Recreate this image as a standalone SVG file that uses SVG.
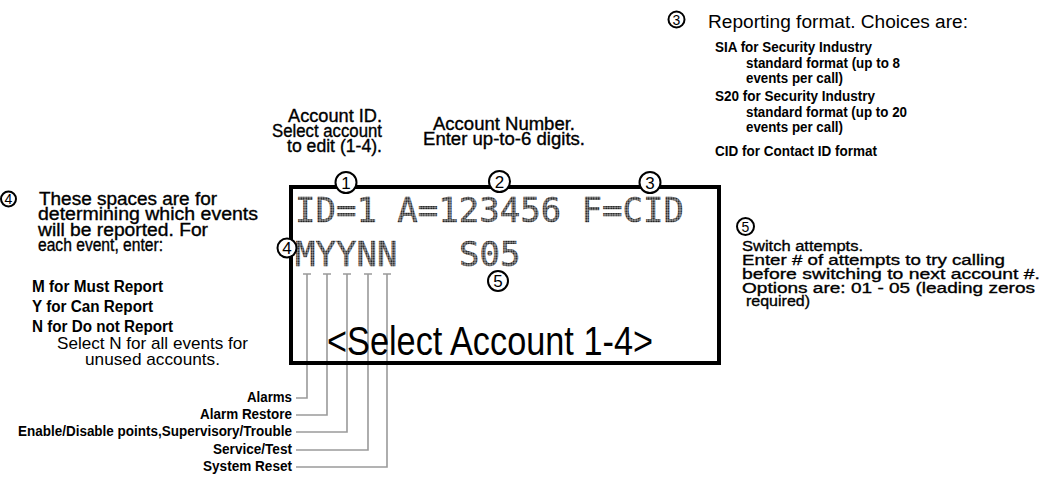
<svg xmlns="http://www.w3.org/2000/svg" width="1040" height="477" viewBox="0 0 1040 477">
<style>
text{font-family:"Liberation Sans",Arial,sans-serif;fill:#000}
.m{stroke:#000;stroke-width:0.35}
.b{font-weight:bold}
.num{font-size:17px;text-anchor:middle}
.sn{font-size:14px;text-anchor:middle}
.dm{font-family:"DejaVu Sans Mono","Liberation Mono",monospace;font-size:34px;fill:url(#dots);stroke:url(#dots);stroke-width:0.5}
.cir{fill:#fff;stroke:#000;stroke-width:2}
.scir{fill:#fff;stroke:#000;stroke-width:2}
.con{fill:none;stroke:#9a9a9a;stroke-width:1.6}
</style>
<defs>
<pattern id="dots" width="2.5" height="2.5" patternUnits="userSpaceOnUse"><rect x="0.3" y="0.3" width="1.9" height="1.9" fill="#000"/></pattern>
</defs>
<rect width="1040" height="477" fill="#fff"/>

<g id="connectors">
<path class="con" d="M303 274H311M307 274V398H296"/>
<path class="con" d="M323 274H331M327 274V415H296"/>
<path class="con" d="M343 274H351M347 274V432H296"/>
<path class="con" d="M364 274H372M368 274V450H296"/>
<path class="con" d="M383 274H391M387 274V467H296"/>
</g>

<g id="display">
<rect x="291" y="187" width="428" height="176" fill="none" stroke="#000" stroke-width="4"/>
<text class="dm" x="295" y="222">ID=1 A=123456 F=CID</text>
<text class="dm" x="295" y="266">MYYNN</text>
<text class="dm" x="459" y="266">S05</text>
<text x="327" y="355" font-size="41" textLength="326" lengthAdjust="spacingAndGlyphs">&lt;Select Account 1-4&gt;</text>
</g>

<g id="marker1"><circle class="cir" cx="346" cy="182.5" r="10.5"/><text class="num" x="346" y="189">1</text></g>
<g id="marker2"><circle class="cir" cx="499.5" cy="181.5" r="10.5"/><text class="num" x="499.5" y="188">2</text></g>
<g id="marker3"><circle class="cir" cx="650" cy="182.5" r="10.5"/><text class="num" x="650" y="189">3</text></g>
<g id="marker4"><circle class="cir" cx="287" cy="248" r="9.5"/><text class="num" x="287" y="254">4</text></g>
<g id="marker5"><circle class="cir" cx="498" cy="281" r="10"/><text class="num" x="498" y="287">5</text></g>

<g id="account-id">
<text class="m" x="382" y="122" font-size="17.5" text-anchor="end" textLength="94" lengthAdjust="spacingAndGlyphs">Account ID.</text>
<text class="m" x="382" y="137" font-size="17.5" text-anchor="end" textLength="110" lengthAdjust="spacingAndGlyphs">Select account</text>
<text class="m" x="382" y="152" font-size="17.5" text-anchor="end" textLength="95" lengthAdjust="spacingAndGlyphs">to edit (1-4).</text>
</g>

<g id="account-number">
<text class="m" x="433" y="130" font-size="17.5" textLength="142" lengthAdjust="spacingAndGlyphs">Account Number.</text>
<text class="m" x="423" y="145" font-size="17.5" textLength="162" lengthAdjust="spacingAndGlyphs">Enter up-to-6 digits.</text>
</g>

<g id="format-note">
<circle class="scir" cx="676.5" cy="19.5" r="8"/><text class="sn" x="676.5" y="24.5">3</text>
<text x="708" y="28" font-size="18" textLength="260" lengthAdjust="spacingAndGlyphs">Reporting format. Choices are:</text>
<text class="b" x="715" y="52" font-size="14" textLength="157" lengthAdjust="spacingAndGlyphs">SIA for Security Industry</text>
<text class="b" x="746" y="68" font-size="14" textLength="154" lengthAdjust="spacingAndGlyphs">standard format (up to 8</text>
<text class="b" x="746" y="83" font-size="14" textLength="97" lengthAdjust="spacingAndGlyphs">events per call)</text>
<text class="b" x="715" y="101" font-size="14" textLength="160" lengthAdjust="spacingAndGlyphs">S20 for Security Industry</text>
<text class="b" x="746" y="117" font-size="14" textLength="161" lengthAdjust="spacingAndGlyphs">standard format (up to 20</text>
<text class="b" x="746" y="132" font-size="14" textLength="97" lengthAdjust="spacingAndGlyphs">events per call)</text>
<text class="b" x="715" y="156" font-size="14" textLength="162" lengthAdjust="spacingAndGlyphs">CID for Contact ID format</text>
</g>

<g id="events-note">
<circle class="scir" cx="8.5" cy="199" r="7.5"/><text class="sn" x="8.5" y="204">4</text>
<text class="m" x="39" y="205" font-size="17.5" textLength="178" lengthAdjust="spacingAndGlyphs">These spaces are for</text>
<text class="m" x="38" y="220" font-size="17.5" textLength="220" lengthAdjust="spacingAndGlyphs">determining which events</text>
<text class="m" x="38" y="236" font-size="17.5" textLength="170" lengthAdjust="spacingAndGlyphs">will be reported. For</text>
<text class="m" x="38" y="251" font-size="17.5" textLength="125" lengthAdjust="spacingAndGlyphs">each event, enter:</text>
<text class="b" x="32" y="292" font-size="16" textLength="131" lengthAdjust="spacingAndGlyphs">M for Must Report</text>
<text class="b" x="32" y="312" font-size="16" textLength="121" lengthAdjust="spacingAndGlyphs">Y for Can Report</text>
<text class="b" x="32" y="332" font-size="16" textLength="141" lengthAdjust="spacingAndGlyphs">N for Do not Report</text>
<text x="57" y="349" font-size="17" textLength="191" lengthAdjust="spacingAndGlyphs">Select N for all events for</text>
<text x="85" y="365" font-size="17" textLength="135" lengthAdjust="spacingAndGlyphs">unused accounts.</text>
</g>

<g id="switch-note">
<circle class="scir" cx="745.5" cy="226.5" r="8.5"/><text class="sn" x="745.5" y="231.5">5</text>
<text class="m" x="742" y="251" font-size="15.5" textLength="121" lengthAdjust="spacingAndGlyphs">Switch attempts.</text>
<text class="m" x="742" y="265" font-size="15.5" textLength="263" lengthAdjust="spacingAndGlyphs">Enter # of attempts to try calling</text>
<text class="m" x="742" y="279" font-size="15.5" textLength="298" lengthAdjust="spacingAndGlyphs">before switching to next account #.</text>
<text class="m" x="742" y="293" font-size="15.5" textLength="293" lengthAdjust="spacingAndGlyphs">Options are: 01 - 05 (leading zeros</text>
<text class="m" x="746" y="306" font-size="15.5" textLength="64" lengthAdjust="spacingAndGlyphs">required)</text>
</g>

<g id="event-labels">
<text class="b" x="292" y="402" font-size="14" text-anchor="end" textLength="45" lengthAdjust="spacingAndGlyphs">Alarms</text>
<text class="b" x="292" y="419" font-size="14" text-anchor="end" textLength="92" lengthAdjust="spacingAndGlyphs">Alarm Restore</text>
<text class="b" x="292" y="436" font-size="14" text-anchor="end" textLength="274" lengthAdjust="spacingAndGlyphs">Enable/Disable points,Supervisory/Trouble</text>
<text class="b" x="292" y="454" font-size="14" text-anchor="end" textLength="79" lengthAdjust="spacingAndGlyphs">Service/Test</text>
<text class="b" x="292" y="471" font-size="14" text-anchor="end" textLength="89" lengthAdjust="spacingAndGlyphs">System Reset</text>
</g>
</svg>
